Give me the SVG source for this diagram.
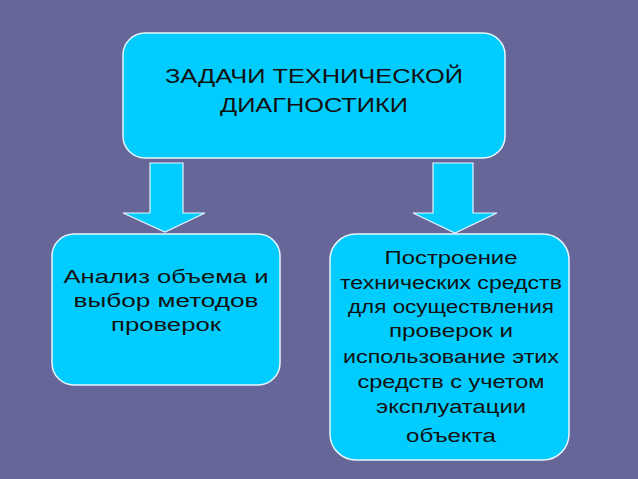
<svg xmlns="http://www.w3.org/2000/svg" width="638" height="479" viewBox="0 0 638 479">
<style>
.box{fill:#00CCFF;stroke:#E6F6FF;stroke-width:1.5}
.arr{fill:#00CCFF;stroke:#E6F6FF;stroke-width:1.2}
text{font-family:"Liberation Sans",Arial,sans-serif;fill:#111;text-anchor:middle}
.t1{font-size:21px}
.t2{font-size:18px}
</style>
<rect width="638" height="479" fill="#676699"/>
<g id="connectors">
<polygon class="arr" points="150,163 183,163 183,213 205,213 165,232 123,213 150,213"/>
<polygon class="arr" points="433,163 473,163 473,213 497,213 455,233 413,213 433,213"/>
</g>
<g id="top">
<rect class="box" x="123" y="33" width="382" height="125" rx="22"/>
<text class="t1" x="314" y="83" textLength="298" lengthAdjust="spacingAndGlyphs">ЗАДАЧИ ТЕХНИЧЕСКОЙ</text>
<text class="t1" x="314" y="112" textLength="188" lengthAdjust="spacingAndGlyphs">ДИАГНОСТИКИ</text>
</g>
<g id="left">
<rect class="box" x="52" y="234" width="228" height="151" rx="22"/>
<text class="t2" x="166" y="283" textLength="205" lengthAdjust="spacingAndGlyphs">Анализ объема и</text>
<text class="t2" x="166" y="307" textLength="185" lengthAdjust="spacingAndGlyphs">выбор методов</text>
<text class="t2" x="166" y="331" textLength="110" lengthAdjust="spacingAndGlyphs">проверок</text>
</g>
<g id="right">
<rect class="box" x="330" y="234" width="239" height="226" rx="26"/>
<text class="t2" x="451" y="264" textLength="133" lengthAdjust="spacingAndGlyphs">Построение</text>
<text class="t2" x="451" y="289" textLength="222" lengthAdjust="spacingAndGlyphs">технических средств</text>
<text class="t2" x="451" y="313" textLength="206" lengthAdjust="spacingAndGlyphs">для осуществления</text>
<text class="t2" x="451" y="337" textLength="124" lengthAdjust="spacingAndGlyphs">проверок и</text>
<text class="t2" x="451" y="363" textLength="216" lengthAdjust="spacingAndGlyphs">использование этих</text>
<text class="t2" x="451" y="388" textLength="187" lengthAdjust="spacingAndGlyphs">средств с учетом</text>
<text class="t2" x="451" y="413" textLength="150" lengthAdjust="spacingAndGlyphs">эксплуатации</text>
<text class="t2" x="451" y="442" textLength="90" lengthAdjust="spacingAndGlyphs">объекта</text>
</g>
</svg>
